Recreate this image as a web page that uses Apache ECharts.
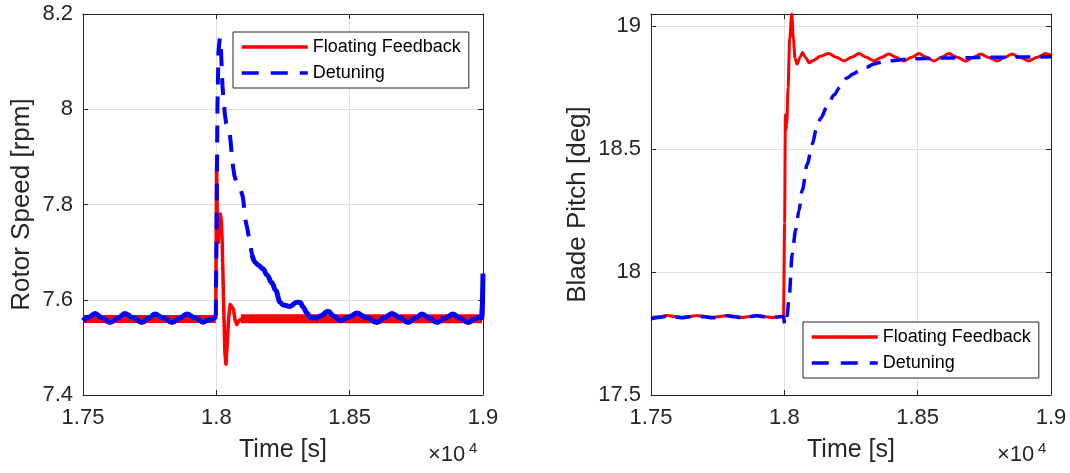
<!DOCTYPE html>
<html>
<head>
<meta charset="utf-8">
<script src="https://cdn.jsdelivr.net/npm/echarts@6/dist/echarts.min.js"></script>
<style>
html,body{margin:0;padding:0;background:#fff;}
#chart{width:1070px;height:473px;}
</style>
</head>
<body>
<div id="chart"></div>
<script>
// ---------- tick labels ----------
const xTickValues = [17500, 18000, 18500, 19000];
const xTickLabels = ['1.75', '1.8', '1.85', '1.9'];
const ySpeedTicks = [7.4, 7.6, 7.8, 8, 8.2];
const ySpeedLabels = ['7.4', '7.6', '7.8', '8', '8.2'];
const yPitchTicks = [17.5, 18, 18.5, 19];
const yPitchLabels = ['17.5', '18', '18.5', '19'];
const seriesNames = ['Floating Feedback', 'Detuning'];

// ---------- Rotor speed (left) ----------
// Floating feedback: fast oscillation drawn as a band (centre value) before / after the event
const speedFFBandPre = [[17500, 7.5595], [17998, 7.5595]];
const speedFFBandPost = [[18092, 7.5600], [18996, 7.5600]];
// Floating feedback: transient and end jump
const speedFFSpike = [[17990, 7.560], [17998, 7.562], [18001, 7.885], [18004, 7.75], [18007, 7.72], [18010, 7.775],
  [18015, 7.78], [18019, 7.765], [18022, 7.72], [18027, 7.60], [18032, 7.49], [18036, 7.465], [18040, 7.50],
  [18046, 7.56], [18052, 7.59], [18058, 7.594], [18064, 7.58], [18070, 7.558], [18077, 7.548], [18085, 7.556],
  [18095, 7.560], [18600, '-'], [18992, 7.560], [19000, 7.640]];
// Detuning: solid-looking noisy parts and dashed transient
const speedDetPre = [[17500, 7.556], [17520, 7.563], [17545, 7.571], [17573, 7.562], [17601, 7.552], [17630, 7.561],
  [17657, 7.571], [17690, 7.562], [17721, 7.552], [17745, 7.561], [17770, 7.570], [17800, 7.562], [17834, 7.552],
  [17862, 7.561], [17890, 7.570], [17920, 7.562], [17950, 7.553], [17975, 7.558], [17998, 7.565]];
const speedDetSpike = [[17998, 7.565], [18001, 7.75], [18004, 8.00], [18008, 8.12], [18013, 8.15], [18017, 8.13],
  [18020, 8.09], [18023, 8.05], [18027, 8.02], [18032, 7.99], [18037, 7.97], [18044, 7.971], [18048, 7.96],
  [18054, 7.93], [18060, 7.89], [18068, 7.86], [18077, 7.845], [18085, 7.84], [18092, 7.83], [18100, 7.814],
  [18105, 7.79], [18110, 7.765], [18116, 7.75], [18126, 7.72], [18134, 7.694]];
const speedDetPost = [[18134, 7.694], [18145, 7.679], [18156, 7.673], [18175, 7.665], [18190, 7.652], [18209, 7.635],
  [18222, 7.620], [18239, 7.595], [18250, 7.589], [18276, 7.586], [18302, 7.595], [18315, 7.594], [18325, 7.585],
  [18340, 7.572], [18351, 7.564], [18370, 7.561], [18390, 7.566], [18419, 7.576], [18440, 7.566], [18464, 7.556],
  [18495, 7.563], [18527, 7.572], [18565, 7.562], [18602, 7.552], [18630, 7.562], [18659, 7.571], [18690, 7.562],
  [18719, 7.552], [18745, 7.561], [18771, 7.570], [18800, 7.561], [18827, 7.552], [18857, 7.561], [18887, 7.570],
  [18915, 7.561], [18944, 7.552], [18970, 7.560], [18985, 7.563], [18996, 7.562], [19000, 7.655]];

// ---------- Blade pitch (right) ----------
const pitchFF = [[17500, 17.815], [17530, 17.818], [17560, 17.823], [17588, 17.819], [17616, 17.815], [17644, 17.819],
  [17672, 17.823], [17700, 17.819], [17729, 17.815], [17757, 17.819], [17785, 17.823], [17813, 17.819], [17841, 17.815],
  [17869, 17.819], [17897, 17.823], [17925, 17.819], [17953, 17.815], [17980, 17.818], [17997, 17.820],
  [18001, 18.20], [18004, 18.64], [18006, 18.58], [18009, 18.60], [18014, 18.75], [18020, 18.95], [18028, 19.05],
  [18034, 18.95], [18040, 18.87], [18048, 18.846], [18058, 18.872], [18068, 18.893], [18080, 18.872], [18092, 18.852],
  [18110, 18.862], [18135, 18.878], [18167, 18.889], [18195, 18.874], [18224, 18.859], [18252, 18.874], [18280, 18.889],
  [18308, 18.874], [18336, 18.859], [18364, 18.873], [18392, 18.887], [18420, 18.873], [18449, 18.859], [18477, 18.874],
  [18505, 18.889], [18533, 18.874], [18561, 18.859], [18589, 18.874], [18617, 18.889], [18648, 18.874], [18680, 18.859],
  [18708, 18.873], [18736, 18.887], [18767, 18.873], [18798, 18.859], [18826, 18.873], [18854, 18.887], [18885, 18.873],
  [18917, 18.859], [18948, 18.874], [18980, 18.889], [19000, 18.882]];
const pitchDet = [[17500, 17.810], [17530, 17.815], [17560, 17.821], [17588, 17.818], [17616, 17.814], [17644, 17.818],
  [17672, 17.822], [17700, 17.818], [17729, 17.814], [17757, 17.818], [17785, 17.822], [17813, 17.818], [17841, 17.814],
  [17869, 17.818], [17897, 17.822], [17925, 17.818], [17953, 17.815], [17980, 17.818], [17997, 17.818],
  [18001, 17.790], [18005, 17.785], [18010, 17.82], [18017, 17.885], [18030, 18.075], [18042, 18.17], [18055, 18.25],
  [18067, 18.332], [18086, 18.44], [18105, 18.521], [18120, 18.58], [18136, 18.625], [18160, 18.672], [18186, 18.72],
  [18210, 18.755], [18235, 18.79], [18258, 18.806], [18280, 18.818], [18310, 18.834], [18336, 18.847], [18370, 18.855],
  [18404, 18.860], [18467, 18.867], [18530, 18.869], [18591, 18.871], [18680, 18.872], [18779, 18.874], [18900, 18.875],
  [19000, 18.876]];

// ---------- styling ----------
const FONT = '"Liberation Sans", Arial, Helvetica, sans-serif';
const AX = '#262626';
const RED = '#ff0000';
const BLUE = '#0000ff';
const GRIDC = '#e0e0e0';

function pick(vals, labels) {
  return function (v) {
    for (let i = 0; i < vals.length; i++) if (Math.abs(vals[i] - v) < 1e-6) return labels[i];
    return '';
  };
}

const grids = [
  { left: 83, top: 14, width: 400, height: 381 },
  { left: 651, top: 14, width: 400, height: 381 }
];

function xAxes(gi) {
  const base = {
    gridIndex: gi, type: 'value', min: 17500, max: 19000, interval: 500,
    axisLine: { show: true, onZero: false, lineStyle: { color: AX, width: 1 } },
    axisTick: { show: true, inside: true, length: 5, lineStyle: { color: AX } },
  };
  return [
    Object.assign({}, base, {
      position: 'bottom',
      name: 'Time [s]', nameLocation: 'middle', nameGap: 43,
      nameTextStyle: { fontFamily: FONT, fontSize: 25, color: AX },
      axisLabel: { show: true, margin: 12, fontFamily: FONT, fontSize: 22, color: AX, formatter: pick(xTickValues, xTickLabels) },
      splitLine: { show: true, lineStyle: { color: GRIDC, width: 1 } }
    }),
    Object.assign({}, base, {
      position: 'top', axisLabel: { show: false }, splitLine: { show: false }
    })
  ];
}
function yAxes(gi, min, max, interval, vals, labels, name, gap) {
  const base = {
    gridIndex: gi, type: 'value', min: min, max: max, interval: interval,
    axisLine: { show: true, onZero: false, lineStyle: { color: AX, width: 1 } },
    axisTick: { show: true, inside: true, length: 5, lineStyle: { color: AX } },
  };
  return [
    Object.assign({}, base, {
      position: 'left',
      name: name, nameLocation: 'middle', nameGap: gap,
      nameTextStyle: { fontFamily: FONT, fontSize: 26, color: AX },
      axisLabel: { show: true, margin: 10, fontFamily: FONT, fontSize: 22, color: AX, formatter: pick(vals, labels) },
      splitLine: { show: true, lineStyle: { color: GRIDC, width: 1 } }
    }),
    Object.assign({}, base, {
      position: 'right', axisLabel: { show: false }, splitLine: { show: false }
    })
  ];
}

function line(name, data, xi, yi, color, width, type, smooth, z) {
  return {
    type: 'line', name: name, data: data, xAxisIndex: xi, yAxisIndex: yi,
    showSymbol: false, symbol: 'none', smooth: smooth, smoothMonotone: 'x',
    connectNulls: false, clip: true, animation: false, silent: true, z: z,
    lineStyle: { color: color, width: width, type: type, cap: 'butt', join: 'round' },
    itemStyle: { color: color }
  };
}

function legend(left, top) {
  return {
    left: left, top: top, orient: 'vertical',
    data: [seriesNames[0], seriesNames[1]],
    backgroundColor: '#ffffff', borderColor: AX, borderWidth: 1, borderRadius: 0,
    padding: [6, 8, 6, 7], itemGap: 8, itemWidth: 66, itemHeight: 14,
    selectedMode: false,
    itemStyle: { opacity: 0, borderWidth: 0 },
    lineStyle: { opacity: 1, width: 3.5 },
    textStyle: { fontFamily: FONT, fontSize: 18, color: '#000' }
  };
}

const option = {
  backgroundColor: '#ffffff',
  animation: false,
  textStyle: { fontFamily: FONT },
  grid: grids,
  xAxis: xAxes(0).concat(xAxes(1)),
  yAxis: yAxes(0, 7.4, 8.2, 0.2, ySpeedTicks, ySpeedLabels, 'Rotor Speed [rpm]', 48)
    .concat(yAxes(1, 17.5, 19.05, 0.5, yPitchTicks, yPitchLabels, 'Blade Pitch [deg]', 60)),
  legend: [legend(233, 32), legend(803, 322)],
  series: [
    line(seriesNames[0], speedFFSpike, 0, 0, RED, 3.5, 'solid', false, 3),
    line(seriesNames[1], speedDetSpike, 0, 0, BLUE, 4, [17, 12], false, 4),
    line(seriesNames[0], speedFFBandPre, 0, 0, RED, 8, 'solid', false, 3),
    line(seriesNames[0], speedFFBandPost, 0, 0, RED, 9, 'solid', false, 3),
    line(seriesNames[1], speedDetPre, 0, 0, BLUE, 5, 'solid', 0.4, 4),
    line(seriesNames[1], speedDetPost, 0, 0, BLUE, 5, 'solid', 0.4, 4),
    line(seriesNames[0], pitchFF, 2, 2, RED, 3, 'solid', 0.3, 3),
    line(seriesNames[1], pitchDet, 2, 2, BLUE, 3.5, [15, 10], 0.3, 4)
  ],
  graphic: [
    { type: 'text', left: 428, top: 444, style: { text: '×10', font: '22px ' + FONT, fill: AX } },
    { type: 'text', left: 469, top: 441, style: { text: '4', font: '15px ' + FONT, fill: AX } },
    { type: 'text', left: 997, top: 444, style: { text: '×10', font: '22px ' + FONT, fill: AX } },
    { type: 'text', left: 1038, top: 441, style: { text: '4', font: '15px ' + FONT, fill: AX } }
  ]
};

const chart = echarts.init(document.getElementById('chart'), null, { renderer: 'canvas' });
chart.setOption(option);
</script>
</body>
</html>
